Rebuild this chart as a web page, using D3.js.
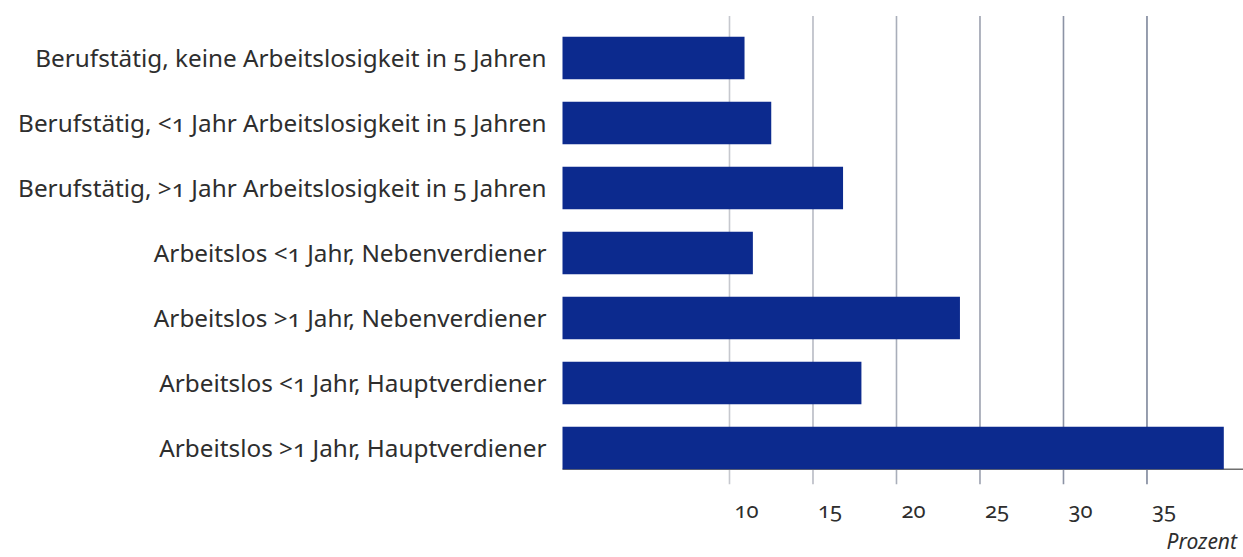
<!DOCTYPE html>
<html lang="de">
<head>
<meta charset="utf-8">
<script src="https://cdn.jsdelivr.net/npm/d3@7"></script>
<style>
  html, body { margin: 0; padding: 0; background: #ffffff; }
  svg { display: block; }
  text { font-family: "Noto Sans", "Open Sans", sans-serif; font-feature-settings: "onum" 1; fill: #2e2e2e; }
</style>
</head>
<body>
<svg id="chart" width="1243" height="557"></svg>
<script>
// Anteil in Prozent je Erwerbsstatus
const categories = [
  "Berufstätig, keine Arbeitslosigkeit in 5 Jahren",
  "Berufstätig, <1 Jahr Arbeitslosigkeit in 5 Jahren",
  "Berufstätig, >1 Jahr Arbeitslosigkeit in 5 Jahren",
  "Arbeitslos <1 Jahr, Nebenverdiener",
  "Arbeitslos >1 Jahr, Nebenverdiener",
  "Arbeitslos <1 Jahr, Hauptverdiener",
  "Arbeitslos >1 Jahr, Hauptverdiener"
];
const values = [10.9, 12.5, 16.8, 11.4, 23.8, 17.9, 39.6];
const tickValues = [10, 15, 20, 25, 30, 35];
const axisTitle = "Prozent";

const W = 1243, H = 557;
const svg = d3.select("#chart");

const x = d3.scaleLinear().domain([0, 40.75]).range([562.5, W]);
const y = d3.scaleBand().domain(categories).range([25.5, 480.5])
  .paddingInner(0.346).paddingOuter(0.173);

const barColor = "#0c2a8e";
// grid lines darken slightly from left to right
const gridColor = d3.scaleLinear().domain([10, 35]).range(["#c6c8ce", "#7e869b"]);
const baseY = y(categories[categories.length - 1]) + y.bandwidth();

// vertical grid lines, running down past the baseline as tick marks
svg.append("g").selectAll("line").data(tickValues).join("line")
  .attr("x1", d => x(d)).attr("x2", d => x(d))
  .attr("y1", 16).attr("y2", baseY + 15)
  .attr("stroke", d => gridColor(d)).attr("stroke-width", 1.6);

// baseline
svg.append("line")
  .attr("x1", x(0)).attr("x2", W)
  .attr("y1", baseY).attr("y2", baseY)
  .attr("stroke", "#6f6f6f").attr("stroke-width", 1.6);

// bars
svg.append("g").selectAll("rect").data(values).join("rect")
  .attr("x", x(0))
  .attr("y", (d, i) => y(categories[i]))
  .attr("width", d => x(d) - x(0))
  .attr("height", y.bandwidth())
  .attr("fill", barColor);

// category labels
svg.append("g").selectAll("text").data(categories).join("text")
  .attr("x", x(0) - 16)
  .attr("y", d => y(d) + y.bandwidth() / 2)
  .attr("dy", "0.35em")
  .attr("text-anchor", "end")
  .attr("font-size", 24.3)
  .text(d => d);

// tick labels
svg.append("g").selectAll("text").data(tickValues).join("text")
  .attr("x", d => x(d) + 17)
  .attr("y", baseY + 49)
  .attr("text-anchor", "middle")
  .attr("font-size", 22)
  .text(d => d);

// axis title
svg.append("text")
  .attr("x", W - 6).attr("y", H - 8)
  .attr("text-anchor", "end")
  .attr("font-size", 21)
  .attr("font-style", "italic")
  .text(axisTitle);
</script>
</body>
</html>
